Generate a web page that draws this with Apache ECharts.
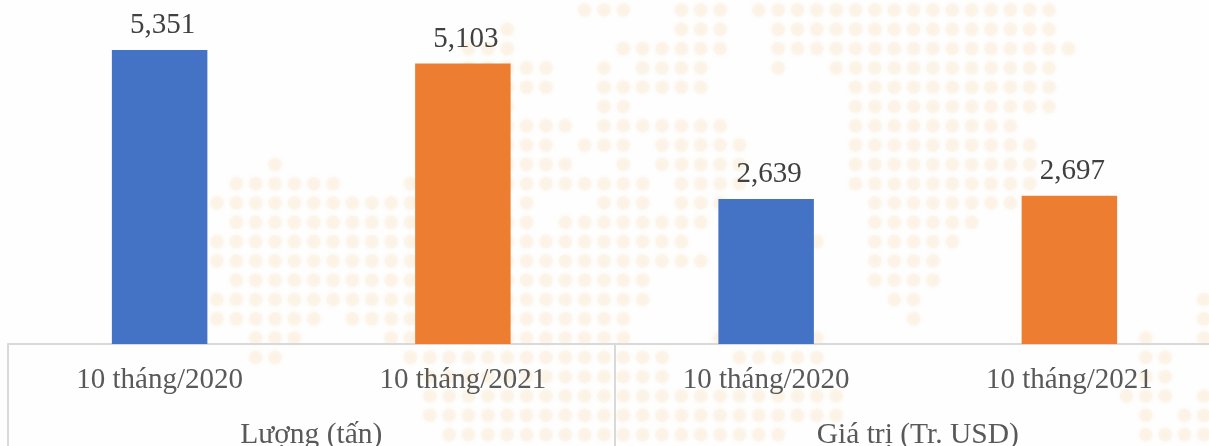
<!DOCTYPE html>
<html>
<head>
<meta charset="utf-8">
<script src="https://cdn.jsdelivr.net/npm/echarts@6/dist/echarts.min.js"></script>
<style>
  html, body { margin: 0; padding: 0; background: #fefefe; }
  #main { width: 1209px; height: 446px; }
</style>
</head>
<body>
<div id="main"></div>
<script>
var periods = ['10 tháng/2020', '10 tháng/2021', '10 tháng/2020', '10 tháng/2021'];
var groups = ['Lượng (tấn)', 'Giá trị (Tr. USD)'];
var values = [5351, 5103, 2639, 2697];
var barColors = ['#4472C4', '#ED7D31', '#4472C4', '#ED7D31'];

// nen ban do the gioi: moi hang la cac doan cot [tu, den] co cham
var mapRows = [
  [[19, 21], [24, 26], [28, 43]],
  [[15, 15], [24, 26], [29, 43]],
  [[13, 15], [21, 26], [29, 44]],
  [[13, 17], [20, 20], [22, 25], [29, 29], [32, 43]],
  [[15, 17], [20, 25], [33, 43]],
  [[15, 15], [20, 21], [33, 43]],
  [[15, 18], [20, 26], [33, 41]],
  [[15, 17], [19, 21], [23, 27], [33, 42]],
  [[3, 3], [15, 18], [21, 21], [23, 27], [33, 42]],
  [[1, 6], [10, 22], [24, 27], [33, 42]],
  [[0, 10], [16, 16], [20, 22], [24, 26], [34, 41]],
  [[1, 10], [15, 16], [18, 25], [34, 39]],
  [[0, 24], [31, 31], [34, 38]],
  [[0, 25], [34, 37]],
  [[1, 22], [34, 37]],
  [[0, 22], [35, 36], [51, 51]],
  [[0, 5], [7, 21], [36, 36], [51, 51]],
  [[2, 4], [9, 21], [26, 26], [31, 31], [48, 48], [51, 51]],
  [[2, 3], [10, 23], [27, 31], [48, 49]],
  [[11, 23], [48, 49]],
  [[11, 32], [47, 49], [51, 51]],
  [[11, 32], [48, 48], [50, 51]],
  [[12, 29], [48, 51]]
];

var mapDots = [];
mapRows.forEach(function (row, r) {
  row.forEach(function (seg) {
    for (var c = seg[0]; c <= seg[1]; c++) {
      mapDots.push([c, r]);
    }
  });
});

var chart = echarts.init(document.getElementById('main'), null, { renderer: 'canvas' });
var serif = '"Liberation Serif", "Times New Roman", serif';

chart.setOption({
  animation: false,
  backgroundColor: '#fefefe',
  grid: [
    { left: 8, width: 1213, top: 0, height: 344, outerBoundsMode: 'none' },
    { left: 217, top: 10, width: 986.85, height: 424.6, outerBoundsMode: 'none' }
  ],
  xAxis: [
    {
      type: 'category',
      gridIndex: 0,
      data: periods,
      axisLine: { show: true, lineStyle: { color: '#D9D9D9', width: 2 } },
      axisTick: { show: false },
      axisLabel: { interval: 0, margin: 22, color: '#595959', fontSize: 29, fontFamily: serif }
    },
    {
      type: 'category',
      gridIndex: 0,
      position: 'bottom',
      data: groups,
      axisLine: { show: false },
      axisTick: { show: true, length: 102, lineStyle: { color: '#D9D9D9', width: 2 } },
      axisLabel: { interval: 0, margin: 76, color: '#595959', fontSize: 29.5, fontFamily: serif }
    },
    { type: 'value', gridIndex: 1, min: 0, max: 51, show: false }
  ],
  yAxis: [
    { type: 'value', gridIndex: 0, min: 0, max: 6261, show: false },
    { type: 'value', gridIndex: 1, min: 0, max: 22, inverse: true, show: false }
  ],
  series: [
    {
      type: 'scatter',
      xAxisIndex: 2,
      yAxisIndex: 1,
      data: mapDots,
      symbol: 'circle',
      symbolSize: 13,
      silent: true,
      z: -1,
      clip: false,
      itemStyle: { color: '#FBF3E5', shadowBlur: 4, shadowColor: '#FBF3E5' }
    },
    {
      type: 'bar',
      xAxisIndex: 0,
      yAxisIndex: 0,
      barWidth: 95.5,
      data: values.map(function (v, i) {
        return { value: v, itemStyle: { color: barColors[i] } };
      }),
      label: {
        show: true,
        position: 'top',
        distance: 10,
        offset: [3, 0],
        color: '#404040',
        fontSize: 29,
        fontFamily: serif,
        formatter: function (p) {
          return p.value.toLocaleString('en-US');
        }
      }
    }
  ]
});
</script>
</body>
</html>
